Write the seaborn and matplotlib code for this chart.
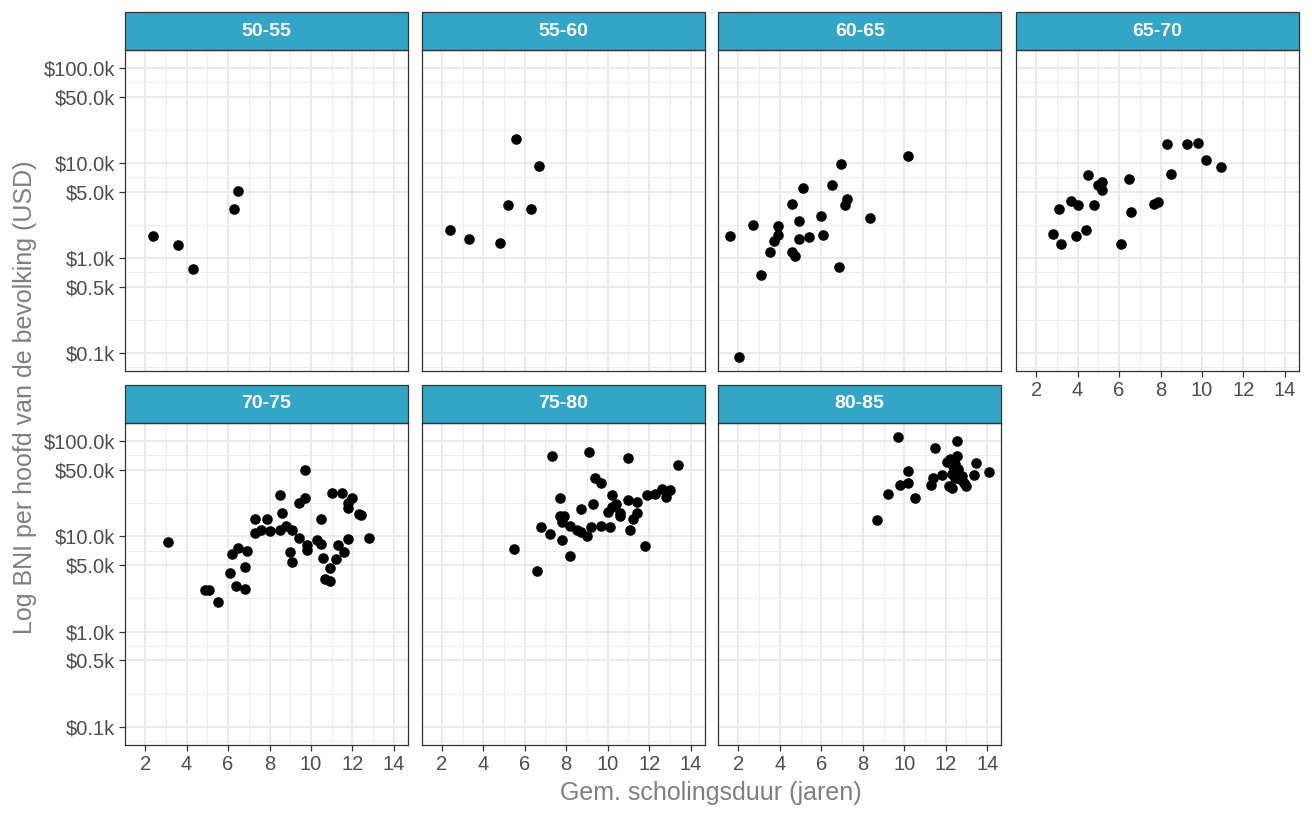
import matplotlib
matplotlib.use("Agg")
import matplotlib.pyplot as plt
import matplotlib.ticker as mticker
from matplotlib.patches import Rectangle
import numpy as np
import pandas as pd
import seaborn as sns

# facetten: levensverwachting (jaren)
groups = ["50-55", "55-60", "60-65", "65-70", "70-75", "75-80", "80-85"]

school_50_55 = [2.4, 3.6, 4.3, 6.3, 6.5]
gni_50_55 = [1700, 1370, 770, 3240, 5050]

school_55_60 = [2.4, 3.3, 4.8, 5.2, 5.6, 6.3, 6.7]
gni_55_60 = [1960, 1590, 1445, 3600, 17700, 3270, 9400]

school_60_65 = [1.6, 2.05, 2.7, 3.1, 3.5, 3.7, 3.9, 3.9, 4.6, 4.6, 4.75, 4.9,
                4.9, 5.1, 5.4, 6.0, 6.1, 6.5, 6.85, 6.95, 7.15, 7.25, 8.35, 10.2]
gni_60_65 = [1700, 90, 2200, 660, 1150, 1510, 2150, 1740, 3700, 1170, 1040, 2430,
             1590, 5500, 1660, 2800, 1750, 5800, 800, 9700, 3570, 4130, 2650, 11800]

school_65_70 = [2.8, 3.1, 3.2, 3.7, 3.9, 4.0, 4.4, 4.5, 4.8, 5.0, 5.2, 5.2,
                6.1, 6.5, 6.6, 7.7, 7.9, 8.3, 8.5, 9.3, 9.8, 10.2, 10.9]
gni_65_70 = [1780, 3240, 1420, 4000, 1700, 3600, 1960, 7500, 3600, 5850, 6330, 5180,
             1400, 6800, 3040, 3690, 3900, 15800, 7600, 15900, 16400, 10700, 9100]

school_70_75 = [3.1, 4.9, 5.1, 5.5, 6.1, 6.2, 6.4, 6.5, 6.8, 6.8, 6.9, 7.3,
                7.3, 7.6, 7.9, 8.0, 8.5, 8.5, 8.6, 8.8, 9.1, 9.0, 9.1, 9.4,
                9.4, 9.7, 9.7, 9.8, 9.8, 10.3, 10.5, 10.5, 10.6, 10.7, 10.9, 10.9,
                11.0, 11.2, 11.3, 11.5, 11.6, 11.8, 11.8, 11.8, 12.0, 12.3, 12.4, 12.8]
gni_70_75 = [8650, 2730, 2730, 2030, 4090, 6500, 3030, 7480, 4760, 2800, 6950, 15400,
             10800, 11800, 15300, 11400, 26900, 11600, 17700, 12800, 11800, 6900, 5330, 9500,
             22500, 49600, 25200, 8100, 7180, 9100, 15300, 8400, 5900, 3540, 3370, 4600,
             28700, 5730, 8100, 28700, 6800, 9300, 20000, 22500, 25400, 17300, 16900, 9600]

school_75_80 = [5.5, 6.6, 6.8, 7.2, 7.3, 7.7, 7.7, 7.8, 7.8, 7.9, 8.2, 8.2,
                8.5, 8.7, 8.7, 9.0, 9.1, 9.2, 9.3, 9.4, 9.7, 9.7, 10.0, 10.1,
                10.2, 10.2, 10.4, 10.6, 10.6, 11.0, 11.0, 11.1, 11.2, 11.4, 11.4, 11.8,
                11.9, 12.3, 12.6, 12.8, 13.0, 13.4]
gni_75_80 = [7400, 4300, 12500, 10700, 70000, 25000, 16300, 9200, 14200, 16300, 6200, 12800,
             11600, 19500, 11100, 10100, 76000, 12500, 22000, 40600, 36500, 12800, 18100, 12400,
             27300, 20300, 22000, 16300, 17700, 66000, 24000, 11600, 15300, 17500, 23100, 7850,
             27300, 28000, 31600, 26000, 30400, 56000]

school_80_85 = [8.7, 9.2, 9.7, 9.8, 10.2, 10.2, 10.5, 11.3, 11.4, 11.5, 11.8, 12.05,
                12.2, 12.15, 12.3, 12.35, 12.45, 12.55, 12.55, 12.6, 12.7, 12.8, 12.9, 13.0,
                13.35, 13.45, 14.1, 12.3, 12.45]
gni_80_85 = [14800, 28000, 110000, 34800, 48400, 36000, 25000, 34800, 41200, 83700, 44000, 60200,
             65300, 33700, 32400, 54700, 41200, 100000, 69600, 50500, 39600, 43000, 36500, 33700,
             43600, 59300, 47300, 44700, 56900]

school_all = [school_50_55, school_55_60, school_60_65, school_65_70,
              school_70_75, school_75_80, school_80_85]
gni_all = [gni_50_55, gni_55_60, gni_60_65, gni_65_70,
           gni_70_75, gni_75_80, gni_80_85]

gni_ticks = [100, 500, 1000, 5000, 10000, 50000, 100000]
gni_tick_labels = ["\\$0.1k", "\\$0.5k", "\\$1.0k", "\\$5.0k", "\\$10.0k", "\\$50.0k", "\\$100.0k"]
school_ticks = [2, 4, 6, 8, 10, 12, 14]

frames = []
for grp, xs, ys in zip(groups, school_all, gni_all):
    frames.append(pd.DataFrame({"groep": grp, "school": xs, "gni": ys}))
df = pd.concat(frames, ignore_index=True)

sns.set_style("white")
plt.rcParams["font.family"] = ["Liberation Sans", "DejaVu Sans"]

g = sns.relplot(
    data=df, x="school", y="gni", col="groep", col_order=groups, col_wrap=4,
    kind="scatter", color="black", s=58, linewidth=0,
    height=3.2, aspect=1.0,
)
g.set(yscale="log")
g.set_titles("")
g.set_axis_labels("", "")

fig = g.figure
fig.set_size_inches(13.12, 8.16)

W, H = 1312, 816
col_left = [125, 421.7, 718.3, 1016]
row_top = [50, 423]
row_bot = [371, 745]
strip_h = 38
strip_color = "#33A6C8"
dark = "#333333"

for i, ax in enumerate(g.axes.flat):
    r, c = divmod(i, 4)
    ph = row_bot[r] - row_top[r]
    ax.set_position([col_left[c] / W, 1 - row_bot[r] / H, 283 / W, ph / H])

    ax.set_xlim(1.03, 14.68)
    ax.set_ylim(10 ** 1.81, 10 ** 5.19)
    ax.yaxis.set_major_locator(mticker.FixedLocator(gni_ticks))
    ax.yaxis.set_major_formatter(mticker.FixedFormatter(gni_tick_labels))
    ax.yaxis.set_minor_locator(mticker.FixedLocator(10 ** np.arange(1.85, 5.2, 0.5)))
    ax.xaxis.set_major_locator(mticker.FixedLocator(school_ticks))
    ax.xaxis.set_minor_locator(mticker.FixedLocator(np.arange(1, 16, 2)))

    ax.set_axisbelow(True)
    ax.grid(which="major", color="#E8E8E8", linewidth=1.3)
    ax.grid(which="minor", color="#EDEDED", linewidth=0.8)
    for sp in ax.spines.values():
        sp.set_visible(True)
        sp.set_color(dark)
        sp.set_linewidth(0.9)

    ax.tick_params(which="minor", length=0)
    ax.tick_params(which="major", direction="out", length=4.5, width=0.9,
                   color=dark, labelcolor="#4D4D4D", labelsize=14.5, pad=2.5)
    is_left = c == 0
    is_bottom = i >= 3
    ax.tick_params(axis="y", left=is_left, labelleft=is_left)
    ax.tick_params(axis="x", bottom=is_bottom, labelbottom=is_bottom)

    # strip
    sh = strip_h / ph
    ax.add_patch(Rectangle((0, 1), 1, sh, transform=ax.transAxes, facecolor=strip_color,
                           edgecolor=dark, linewidth=0.9, clip_on=False))
    ax.text(0.5, 1 + sh / 2, groups[i], transform=ax.transAxes, ha="center", va="center",
            color="white", fontsize=14, fontweight="bold")

fig.text(711 / W, 1 - 793 / H, "Gem. scholingsduur (jaren)", ha="center", va="center",
         fontsize=18, color="#7F7F7F")
fig.text(25 / W, 1 - 397 / H, "Log BNI per hoofd van de bevolking (USD)", ha="center",
         va="center", rotation=90, fontsize=18, color="#7F7F7F")

fig.savefig("out.png", dpi=100)
